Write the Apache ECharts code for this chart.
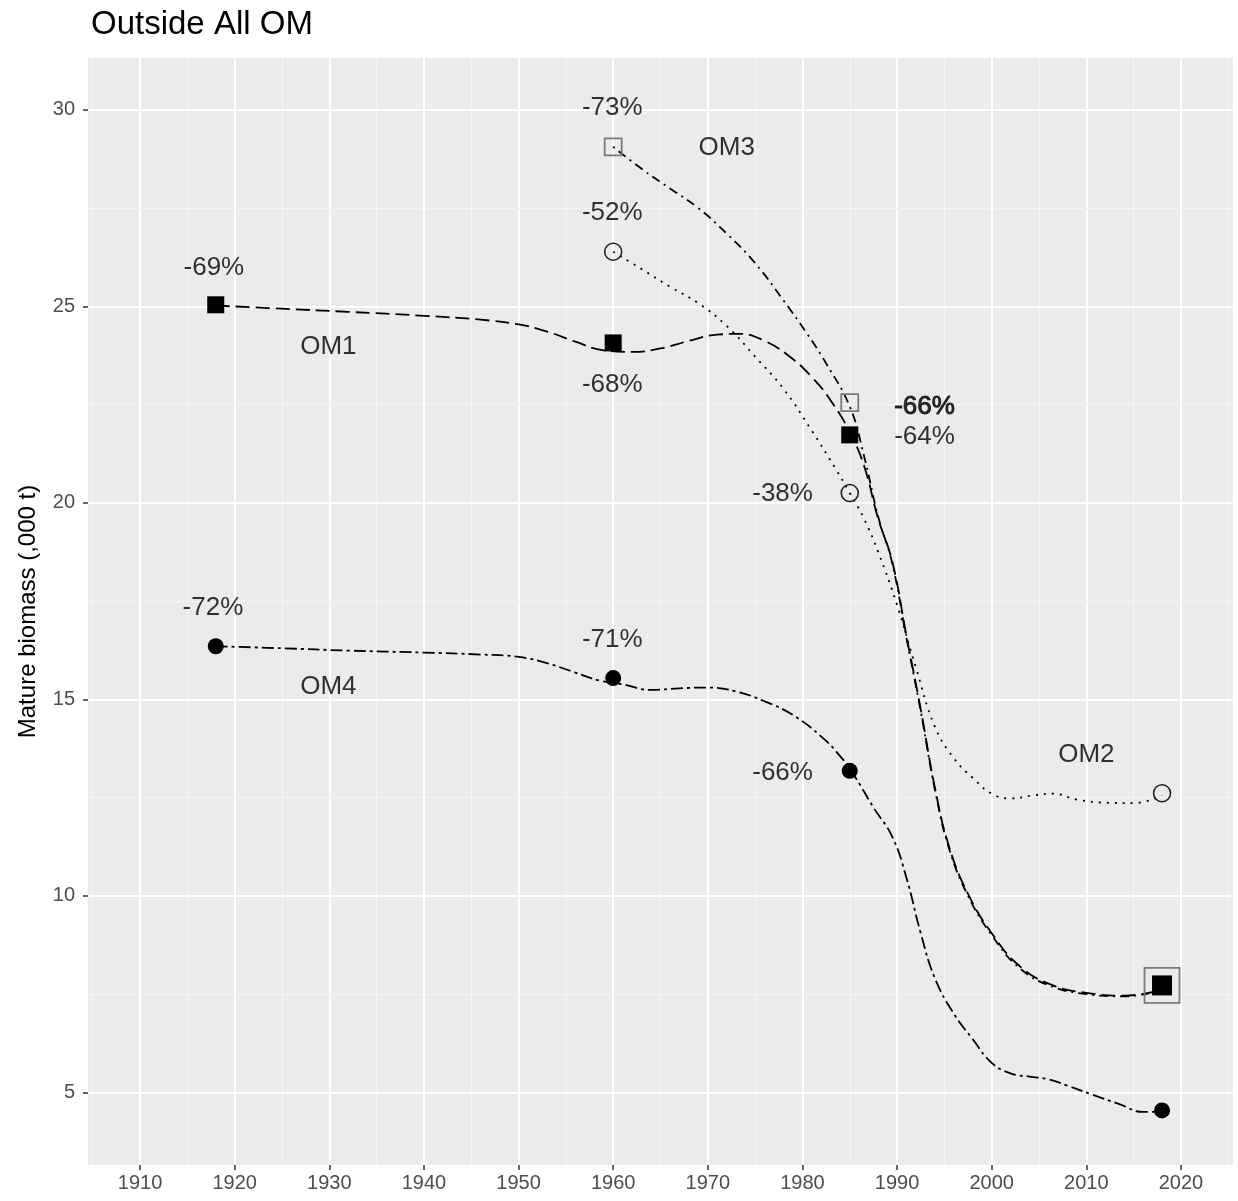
<!DOCTYPE html>
<html>
<head>
<meta charset="utf-8">
<script src="https://cdn.jsdelivr.net/npm/echarts@6/dist/echarts.min.js"></script>
<style>
  html, body { margin: 0; padding: 0; background: #fff; }
  #chart { width: 1238px; height: 1201px; }
</style>
</head>
<body>
<div id="chart"></div>
<script>
// axis ticks
const xTicks = [1910, 1920, 1930, 1940, 1950, 1960, 1970, 1980, 1990, 2000, 2010, 2020];
const xMinor = [1905, 1915, 1925, 1935, 1945, 1955, 1965, 1975, 1985, 1995, 2005, 2015, 2025];
const yTicks = [5, 10, 15, 20, 25, 30];
const yMinor = [7.5, 12.5, 17.5, 22.5, 27.5];

// smoothed trajectories (year, biomass)
const om1Years = [1918, 1925, 1932, 1940, 1946, 1950, 1953, 1956, 1959, 1962, 1965, 1968, 1971, 1973.5, 1976, 1978.5, 1981, 1983, 1985, 1986.5, 1988, 1989.5, 1991, 1992.5, 1994, 1995.5, 1997.5, 2000, 2003, 2006.5, 2010, 2014, 2018];
const om1Vals  = [25.02, 24.94, 24.86, 24.76, 24.66, 24.54, 24.36, 24.1, 23.88, 23.84, 23.93, 24.12, 24.28, 24.3, 24.12, 23.75, 23.2, 22.6, 21.8, 20.95, 19.6, 18.5, 16.6, 14.75, 12.75, 11.25, 10.05, 9.05, 8.2, 7.72, 7.53, 7.46, 7.6];

const om2Years = [1960, 1963, 1966, 1969, 1972, 1975, 1978, 1981, 1983.5, 1985, 1986.5, 1988, 1990, 1992, 1994, 1996, 1998, 2000, 2002, 2004.5, 2006.5, 2009, 2012, 2015, 2018];
const om2Vals  = [26.39, 25.95, 25.5, 25.08, 24.5, 23.72, 22.9, 21.83, 20.87, 20.25, 19.6, 18.75, 17.4, 15.8, 14.3, 13.5, 13.0, 12.6, 12.48, 12.56, 12.6, 12.45, 12.37, 12.36, 12.55];

const om3Years = [1960, 1963, 1966, 1969, 1972, 1975, 1978, 1980.5, 1982.5, 1985, 1986.5, 1988, 1989.5, 1991, 1992.5, 1994, 1995.5, 1997.5, 2000, 2003, 2006.5, 2010, 2014, 2018];
const om3Vals  = [29.06, 28.5, 28.0, 27.5, 26.85, 26.1, 25.15, 24.3, 23.55, 22.45, 21.2, 19.65, 18.45, 16.55, 14.7, 12.7, 11.2, 10.0, 9.0, 8.15, 7.68, 7.5, 7.44, 7.6];

const om4Years = [1918, 1925, 1932, 1940, 1946, 1950, 1953, 1956, 1958.5, 1961, 1964, 1967, 1970, 1973, 1976, 1979, 1982, 1984, 1985.5, 1987.5, 1989.5, 1991, 1992.5, 1994, 1996, 1998, 2000, 2002, 2004, 2006, 2008, 2010.5, 2013.5, 2016, 2018];
const om4Vals  = [16.35, 16.3, 16.24, 16.19, 16.14, 16.08, 15.92, 15.68, 15.48, 15.38, 15.24, 15.28, 15.3, 15.2, 14.95, 14.6, 14.05, 13.55, 13.05, 12.25, 11.5, 10.45, 9.05, 7.9, 7.0, 6.35, 5.75, 5.48, 5.4, 5.33, 5.17, 4.95, 4.7, 4.5, 4.5];

// observed points
const om1PtYears = [1918, 1960, 1985, 2018];
const om1PtVals  = [25.04, 24.07, 21.73, 7.72];
const om2PtYears = [1960, 1985, 2018];
const om2PtVals  = [26.39, 20.25, 12.61];
const om3PtYears = [1960, 1985, 2018];
const om3PtVals  = [29.06, 22.55, 7.72];
const om4PtYears = [1918, 1960, 1985, 2018];
const om4PtVals  = [16.35, 15.54, 13.18, 4.54];

// text annotations
const noteTexts = ['-69%', '-72%', '-73%', '-52%', '-68%', '-71%', '-66%', '-64%', '-38%', '-66%', 'OM1', 'OM2', 'OM3', 'OM4'];
const noteYears = [1917.8, 1917.7, 1959.9, 1959.9, 1959.9, 1959.9, 1992.9, 1992.9, 1977.9, 1977.9, 1929.9, 2010.0, 1972.0, 1929.9];
const noteVals  = [25.98, 17.32, 30.05, 27.38, 23.0, 16.51, 22.44, 21.68, 20.22, 13.12, 23.97, 13.58, 29.03, 15.31];

const font = 'Liberation Sans, Arial, sans-serif';
const zip = (xs, ys) => xs.map((x, i) => [x, ys[i]]);

function gridLines() {
  const major = { color: '#ffffff', width: 2, type: 'solid' };
  const minor = { color: '#f5f5f5', width: 1, type: 'solid' };
  let d = [];
  xTicks.forEach(v => d.push({ xAxis: v, lineStyle: major }));
  xMinor.forEach(v => d.push({ xAxis: v, lineStyle: minor }));
  yTicks.forEach(v => d.push({ yAxis: v, lineStyle: major }));
  yMinor.forEach(v => d.push({ yAxis: v, lineStyle: minor }));
  return d;
}

function trend(name, xs, ys, dash) {
  return {
    name: name, type: 'line', data: zip(xs, ys), smooth: 0.45,
    showSymbol: false, symbol: 'none', zlevel: 1, z: 3, silent: true,
    lineStyle: { color: '#000', width: 1.8, type: dash }
  };
}

function points(name, xs, ys, sym, style, bigLast) {
  return {
    name: name, type: 'scatter', zlevel: 1, z: 4, silent: true,
    data: zip(xs, ys).map((p, i) => ({
      value: p,
      symbolSize: (bigLast && i === xs.length - 1) ? bigLast : sym.size
    })),
    symbol: sym.shape,
    itemStyle: Object.assign({ opacity: 1 }, style)
  };
}

const chart = echarts.init(document.getElementById('chart'));
chart.setOption({
  animation: false,
  backgroundColor: '#ffffff',
  title: {
    text: 'Outside All OM', left: 86, top: 3,
    textStyle: { fontFamily: font, fontSize: 33, fontWeight: 'normal', color: '#000' }
  },
  grid: {
    left: 88, right: 5, top: 58, bottom: 36,
    outerBoundsMode: 'none',
    show: true, backgroundColor: '#ebebeb', borderWidth: 0
  },
  xAxis: {
    type: 'value', min: 1904.5, max: 2025.5,
    axisLine: { show: false },
    axisTick: { show: true, customValues: xTicks, length: 5, lineStyle: { color: '#333', width: 1.5 } },
    axisLabel: { customValues: xTicks, formatter: v => String(v), color: '#4d4d4d', fontFamily: font, fontSize: 20, margin: 8 },
    splitLine: { show: false }
  },
  yAxis: {
    type: 'value', min: 3.15, max: 31.32,
    name: 'Mature biomass (,000 t)', nameLocation: 'middle', nameGap: 48, nameRotate: 90,
    nameTextStyle: { fontFamily: font, fontSize: 24, color: '#000' },
    axisLine: { show: false },
    axisTick: { show: true, customValues: yTicks, length: 5, lineStyle: { color: '#333', width: 1.5 } },
    axisLabel: { customValues: yTicks, formatter: v => String(v), color: '#4d4d4d', fontFamily: font, fontSize: 20, margin: 13 },
    splitLine: { show: false }
  },
  series: [
    {
      name: 'grid', type: 'line', data: [], zlevel: 0, z: 1, silent: true,
      markLine: { silent: true, symbol: ['none', 'none'], label: { show: false }, animation: false, data: gridLines() }
    },
    trend('OM1', om1Years, om1Vals, [14, 6]),
    trend('OM2', om2Years, om2Vals, [2, 6]),
    trend('OM3', om3Years, om3Vals, [2, 5, 9, 5]),
    trend('OM4', om4Years, om4Vals, [12, 4, 3, 4]),
    points('OM3 pts', om3PtYears, om3PtVals, { shape: 'rect', size: 17 },
      { color: 'rgba(0,0,0,0)', borderColor: '#7a7a7a', borderWidth: 1.8 }, 35),
    points('OM1 pts', om1PtYears, om1PtVals, { shape: 'rect', size: 17 }, { color: '#000' }, 20),
    points('OM2 pts', om2PtYears, om2PtVals, { shape: 'circle', size: 17 },
      { color: 'rgba(0,0,0,0)', borderColor: '#222', borderWidth: 1.6 }, 0),
    points('OM4 pts', om4PtYears, om4PtVals, { shape: 'circle', size: 16 }, { color: '#000' }, 0),
    {
      name: 'notes', type: 'scatter', zlevel: 1, z: 5, silent: true, symbolSize: 0,
      data: zip(noteYears, noteVals).map((p, i) => ({
        value: p,
        label: {
          show: true, position: 'inside', formatter: noteTexts[i],
          fontFamily: font, fontSize: 26, color: '#000',
          textBorderColor: '#000', textBorderWidth: (i === 6) ? 1 : 0,
          textShadowBlur: 0
        }
      }))
    }
  ]
});
</script>
</body>
</html>
